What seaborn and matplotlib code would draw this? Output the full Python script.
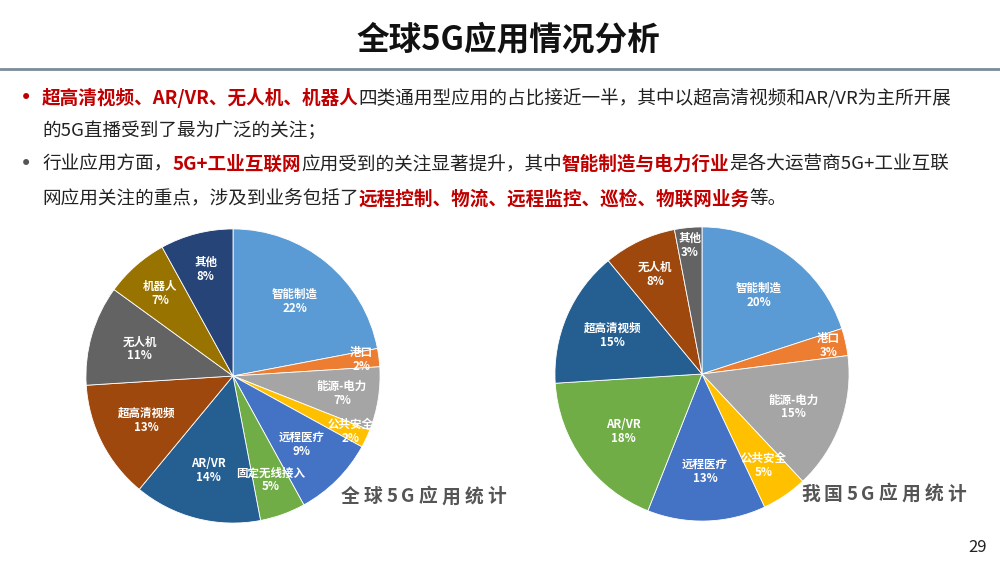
import numpy as np
import matplotlib
matplotlib.use("Agg")
import matplotlib.pyplot as plt
import seaborn as sns

sns.set_theme(style="white")
plt.rcParams['font.family'] = ['Noto Sans CJK SC', 'DejaVu Sans']

# data
global_labels = ["智能制造", "港口", "能源-电力", "公共安全", "远程医疗", "固定无线接入",
                 "AR/VR", "超高清视频", "无人机", "机器人", "其他"]
global_values = [22, 2, 7, 2, 9, 5, 14, 13, 11, 7, 8]

china_labels = ["智能制造", "港口", "能源-电力", "公共安全", "远程医疗",
                "AR/VR", "超高清视频", "无人机", "其他"]
china_values = [20, 3, 15, 5, 13, 18, 15, 8, 3]

title = "全球5G应用情况分析"
bullet_lines = [
    [("超高清视频、AR/VR、无人机、机器人", "red"), ("四类通用型应用的占比接近一半，其中以超高清视频和AR/VR为主所开展", "black")],
    [("的5G直播受到了最为广泛的关注；", "black")],
    [("行业应用方面，", "black"), ("5G+工业互联网", "red"), ("应用受到的关注显著提升，其中", "black"),
     ("智能制造与电力行业", "red"), ("是各大运营商5G+工业互联", "black")],
    [("网应用关注的重点，涉及到业务包括了", "black"), ("远程控制、物流、远程监控、巡检、物联网业务", "red"),
     ("等。", "black")],
]
caption_global = "全球5G应用统计"
caption_china = "我国5G应用统计"
page_no = "29"

office = sns.color_palette(["#5B9BD5", "#ED7D31", "#A5A5A5", "#FFC000", "#4472C4", "#70AD47",
                            "#255E91", "#9E480E", "#636363", "#997300", "#264478"])

W, H = 1000, 563
fig = plt.figure(figsize=(10, 5.63), dpi=100)
fig.patch.set_facecolor("white")
renderer = fig.canvas.get_renderer()


def px(x, y):
    return x / W, 1 - y / H


def spaced_text(x, y, s, gap, **kw):
    # draw a string char by char with extra letter spacing
    for ch in s:
        t = fig.text(*px(x, y), ch, ha="left", va="center", **kw)
        x += t.get_window_extent(renderer).width + gap


# title + rule
fig.text(*px(508, 40), title, ha="center", va="center", fontsize=23.5, fontweight="bold", color="#111111")
fig.add_artist(plt.Line2D([0, 1], [1 - 69 / H] * 2, color="#7A8C99", lw=2))

# bullet text with red highlights
line_y = [98, 130, 164, 199]
for i, runs in enumerate(bullet_lines):
    x = 42
    if i in (0, 2):
        fig.text(*px(20, line_y[i]), "•", ha="left", va="center", fontsize=15,
                 color="#C00000" if i == 0 else "#555555", family="DejaVu Sans")
    for txt, col in runs:
        t = fig.text(*px(x, line_y[i]), txt, ha="left", va="center", fontsize=13.4,
                     color="#C00000" if col == "red" else "#222222",
                     fontweight="bold" if col == "red" else "normal")
        x += t.get_window_extent(renderer).width


def draw_pie(cx, cy, r, labels, values):
    ax = fig.add_axes([(cx - r) / W, (H - cy - r) / H, 2 * r / W, 2 * r / H])
    wedges, _ = ax.pie(values, colors=office[:len(values)], startangle=90, counterclock=False,
                       radius=1, wedgeprops=dict(edgecolor="white", linewidth=0.6))
    ax.set_xlim(-1.02, 1.02)
    ax.set_ylim(-1.02, 1.02)
    ax.set_aspect("equal")
    ax.axis("off")
    for w, lab, v in zip(wedges, labels, values):
        ang = np.deg2rad((w.theta1 + w.theta2) / 2)
        d = 0.88 if v <= 3 else (0.75 if v <= 8 else 0.66)
        ax.text(d * np.cos(ang), d * np.sin(ang), f"{lab}\n{v}%", ha="center", va="center",
                fontsize=8.3, color="white", fontweight="bold", linespacing=1.1)


draw_pie(233, 376, 150, global_labels, global_values)
draw_pie(702, 374, 150, china_labels, china_values)

spaced_text(341, 497, caption_global, 4, fontsize=13.5, fontweight="bold", color="#555555")
spaced_text(801, 494, caption_china, 4, fontsize=13.5, fontweight="bold", color="#555555")
fig.text(*px(978, 547), page_no, ha="center", va="center", fontsize=12, color="#222222")

fig.savefig("out.png", dpi=100, facecolor="white")
